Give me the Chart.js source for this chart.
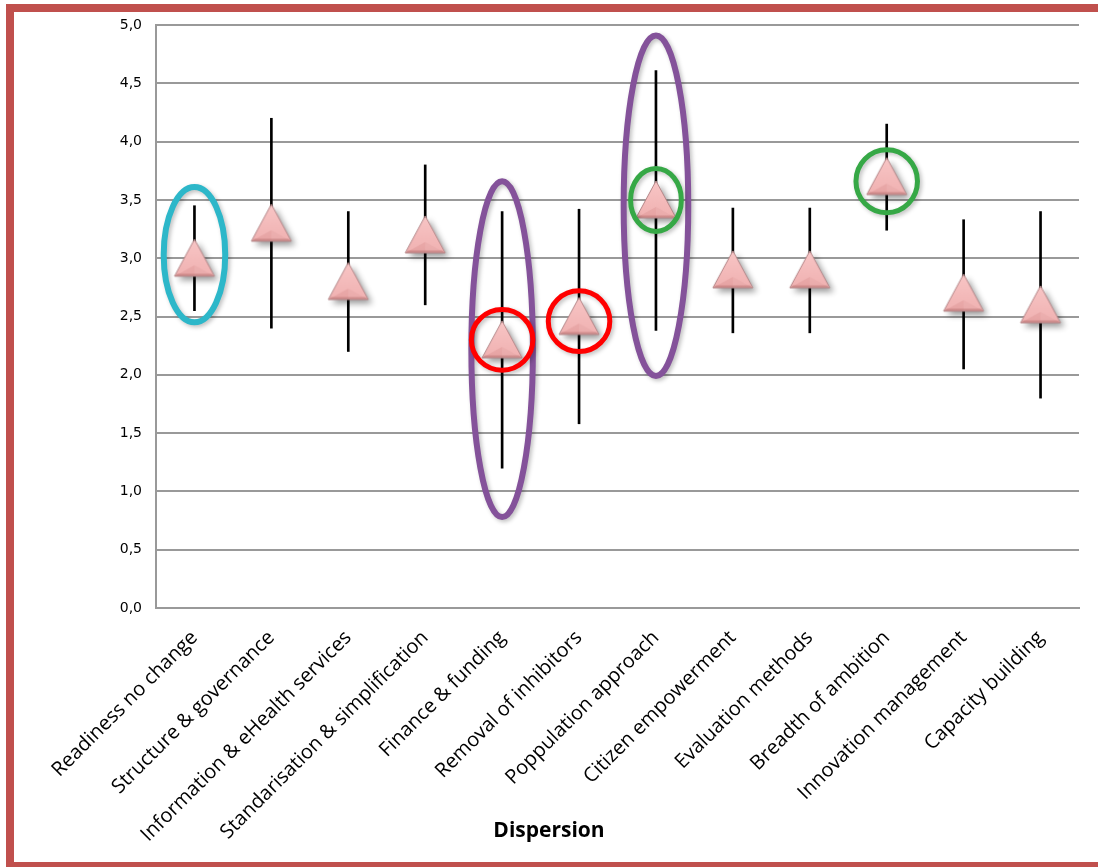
<!DOCTYPE html>
<html>
<head>
<meta charset="utf-8">
<script src="https://cdn.jsdelivr.net/npm/chart.js@4.4.0/dist/chart.umd.min.js"></script>
<style>
  html, body { margin: 0; padding: 0; background: #fff; overflow: hidden; }
  #wrap { position: relative; width: 1098px; height: 867px; }
  #frame { position: absolute; left: 6px; top: 4px; width: 1130px; height: 866px;
           box-sizing: border-box; border: 8px solid #c0504d; pointer-events: none; }
</style>
</head>
<body>
<div id="wrap">
  <canvas id="chart" width="1098" height="867" style="width:1098px;height:867px"></canvas>
  <div id="frame"></div>
</div>
<script>
// ---- data ----
const categories = [
    'Readiness no change', 'Structure & governance', 'Information & eHealth services',
    'Standarisation & simplification', 'Finance & funding', 'Removal of inhibitors',
    'Poppulation approach', 'Citizen empowerment', 'Evaluation methods',
    'Breadth of ambition', 'Innovation management', 'Capacity building'
];
const means = [3.0, 3.3, 2.8, 3.2, 2.3, 2.5, 3.5, 2.9, 2.9, 3.7, 2.7, 2.6];
const highs = [3.45, 4.2, 3.4, 3.8, 3.4, 3.42, 4.61, 3.43, 3.43, 4.15, 3.33, 3.4];
const lows  = [2.55, 2.4, 2.2, 2.6, 1.2, 1.58, 2.38, 2.36, 2.36, 3.24, 2.05, 1.8];
const axisTitle = 'Dispersion';

// highlight rings (category index, centre value, half-height in values, half-width in categories)
const rings = [
    { cat: 4, y: 2.22, ry: 1.44, rx: 0.40, color: '#84529a', width: 6 },
    { cat: 6, y: 3.45, ry: 1.46, rx: 0.42, color: '#84529a', width: 6 },
    { cat: 0, y: 3.03, ry: 0.58, rx: 0.40, color: '#2db7c9', width: 6 },
    { cat: 4, y: 2.30, ry: 0.26, rx: 0.40, color: '#ff0000', width: 5 },
    { cat: 5, y: 2.46, ry: 0.26, rx: 0.40, color: '#ff0000', width: 5 },
    { cat: 6, y: 3.50, ry: 0.27, rx: 0.33, color: '#36a846', width: 5 },
    { cat: 9, y: 3.66, ry: 0.27, rx: 0.40, color: '#36a846', width: 5 }
];

// ---- triangle marker image ----
function makeTriangle() {
    const c = document.createElement('canvas');
    c.width = 64; c.height = 64;
    const g = c.getContext('2d');
    const ax = 32, ay = 13, lx = 12, rx = 52, by = 50;
    g.save();
    g.shadowColor = 'rgba(0,0,0,0.4)';
    g.shadowBlur = 6;
    g.shadowOffsetX = 4;
    g.shadowOffsetY = 4;
    g.beginPath();
    g.moveTo(ax, ay); g.lineTo(rx, by); g.lineTo(lx, by); g.closePath();
    const grad = g.createLinearGradient(0, ay, 0, by);
    grad.addColorStop(0, '#f8c6c6');
    grad.addColorStop(1, '#f0b1b1');
    g.fillStyle = grad;
    g.fill();
    g.restore();
    // lower facets
    g.beginPath();
    g.moveTo(lx, by); g.lineTo(ax, 39); g.lineTo(ax, by); g.closePath();
    g.fillStyle = 'rgba(200,120,120,0.22)';
    g.fill();
    g.beginPath();
    g.moveTo(rx, by); g.lineTo(ax, 39); g.lineTo(ax, by); g.closePath();
    g.fillStyle = 'rgba(200,120,120,0.12)';
    g.fill();
    g.beginPath();
    g.moveTo(lx, by); g.lineTo(rx, by); g.lineTo(rx - 3, by - 2.5); g.lineTo(lx + 3, by - 2.5); g.closePath();
    g.fillStyle = 'rgba(160,90,90,0.35)';
    g.fill();
    g.beginPath();
    g.moveTo(ax, ay); g.lineTo(rx, by); g.lineTo(lx, by); g.closePath();
    g.strokeStyle = '#b48688';
    g.lineWidth = 1;
    g.stroke();
    return c;
}
const triangleImg = makeTriangle();

// ---- rings + bottom title plugin ----
const ringPlugin = {
    id: 'rings',
    afterDatasetsDraw(chart) {
        const { ctx, scales: { x, y } } = chart;
        const step = x.getPixelForValue(1) - x.getPixelForValue(0);
        ctx.save();
        rings.forEach(r => {
            const cx = x.getPixelForValue(r.cat);
            const cy = y.getPixelForValue(r.y);
            const ryPx = Math.abs(y.getPixelForValue(r.y + r.ry) - cy);
            ctx.shadowColor = 'rgba(0,0,0,0.25)';
            ctx.shadowBlur = 4;
            ctx.shadowOffsetX = 2;
            ctx.shadowOffsetY = 2;
            ctx.beginPath();
            ctx.ellipse(cx, cy, r.rx * step, ryPx, 0, 0, Math.PI * 2);
            ctx.strokeStyle = r.color;
            ctx.lineWidth = r.width;
            ctx.stroke();
        });
        ctx.restore();
    },
    afterDraw(chart) {
        const ctx = chart.ctx;
        ctx.save();
        ctx.font = 'bold 21px "Open Sans", "DejaVu Sans", sans-serif';
        ctx.fillStyle = '#000';
        ctx.textAlign = 'center';
        ctx.textBaseline = 'middle';
        ctx.fillText(axisTitle, chart.width / 2, 831);
        ctx.restore();
    }
};

const labelFont = '"Open Sans", "DejaVu Sans", sans-serif';
const tickFont = '"DejaVu Sans", Verdana, sans-serif';

new Chart(document.getElementById('chart').getContext('2d'), {
    data: {
        labels: categories,
        datasets: [
            {
                type: 'line',
                label: 'Mean',
                data: means,
                showLine: false,
                pointStyle: triangleImg,
                pointRadius: 18,
                order: 0
            },
            {
                type: 'bar',
                label: 'Range',
                data: lows.map((l, i) => [l, highs[i]]),
                backgroundColor: '#000000',
                barThickness: 2,
                grouped: false,
                order: 1
            }
        ]
    },
    options: {
        responsive: false,
        animation: false,
        layout: { padding: { left: 0, top: 25, right: 19, bottom: 24 } },
        plugins: { legend: { display: false }, tooltip: { enabled: false } },
        scales: {
            x: {
                type: 'category',
                offset: true,
                grid: { display: false },
                border: { color: '#999999', width: 2 },
                ticks: {
                    color: '#000',
                    font: { family: labelFont, size: 20 },
                    maxRotation: 45, minRotation: 45,
                    autoSkip: false,
                    padding: 10
                },
                afterFit(scale) { scale.height = 235; }
            },
            y: {
                min: 0, max: 5,
                grid: { color: '#999999', lineWidth: 2, drawTicks: false },
                border: { color: '#999999', width: 2 },
                ticks: {
                    stepSize: 0.5,
                    color: '#000',
                    font: { family: tickFont, size: 14 },
                    padding: 14,
                    callback: v => v.toFixed(1).replace('.', ',')
                },
                afterFit(scale) { scale.width = 156; }
            }
        }
    },
    plugins: [ringPlugin]
});
</script>
</body>
</html>
